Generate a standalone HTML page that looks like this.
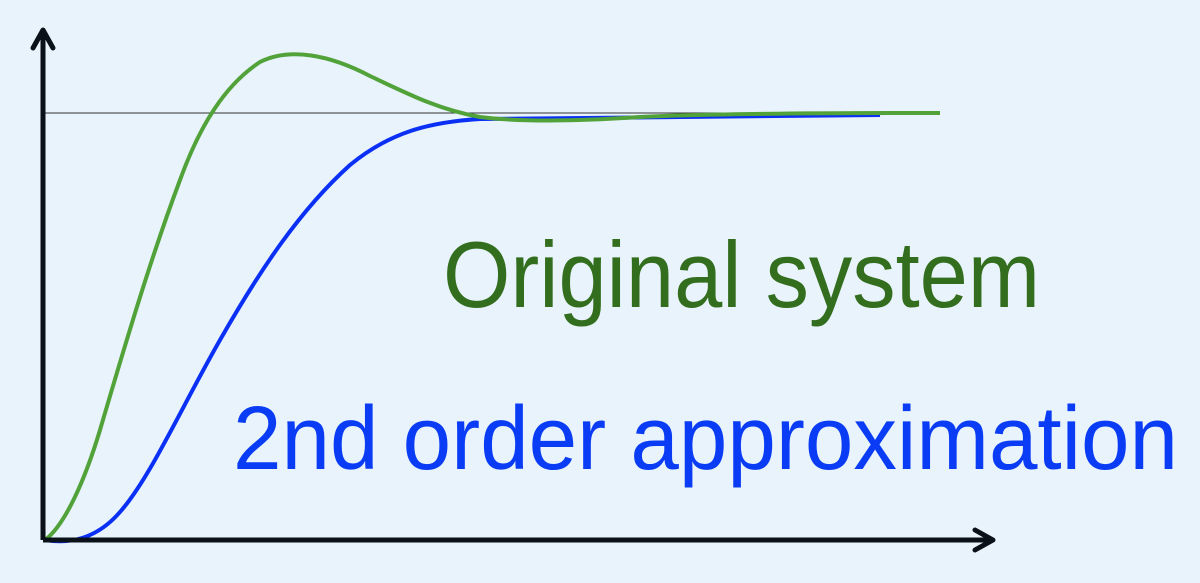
<!DOCTYPE html>
<html><head><style>html,body{margin:0;padding:0;background:#e8f3fc;}</style></head>
<body>
<svg width="1200" height="578" xmlns="http://www.w3.org/2000/svg">
<rect width="1200" height="578" fill="#e8f3fc"/>
<line x1="45" y1="113" x2="940" y2="113" stroke="#333" stroke-width="1"/>
<path d="M45,540 C75,545 100,535 120,512 C150,478 180,410 220,340 C260,270 300,210 350,165 C390,132 430,122 480,119 L880,115" fill="none" stroke="#0a2ff5" stroke-width="4"/>
<path d="M45,540 C65,525 85,480 100,430 C125,345 150,260 180,180 C200,125 225,85 260,62 C290,47 330,55 370,76 C410,95 440,110 480,117 C520,122 580,121 640,117 C700,114 800,113 940,113" fill="none" stroke="#52a23a" stroke-width="4"/>
<line x1="43" y1="540" x2="43" y2="32" stroke="#0a1118" stroke-width="5"/>
<polyline points="33,48 43,30 53,48" fill="none" stroke="#0a1118" stroke-width="5" stroke-linecap="round" stroke-linejoin="round"/>
<line x1="43" y1="540" x2="990" y2="540" stroke="#0a1118" stroke-width="5"/>
<polyline points="975,530 993,540 975,550" fill="none" stroke="#0a1118" stroke-width="5" stroke-linecap="round" stroke-linejoin="round"/>
<text x="443" y="307" font-family="Liberation Sans, sans-serif" font-size="94" fill="#336e1e" textLength="597" lengthAdjust="spacingAndGlyphs">Original system</text>
<text x="233" y="469" font-family="Liberation Sans, sans-serif" font-size="90" fill="#0a3cf5" textLength="945" lengthAdjust="spacingAndGlyphs">2nd order approximation</text>
</svg>
</body></html>
